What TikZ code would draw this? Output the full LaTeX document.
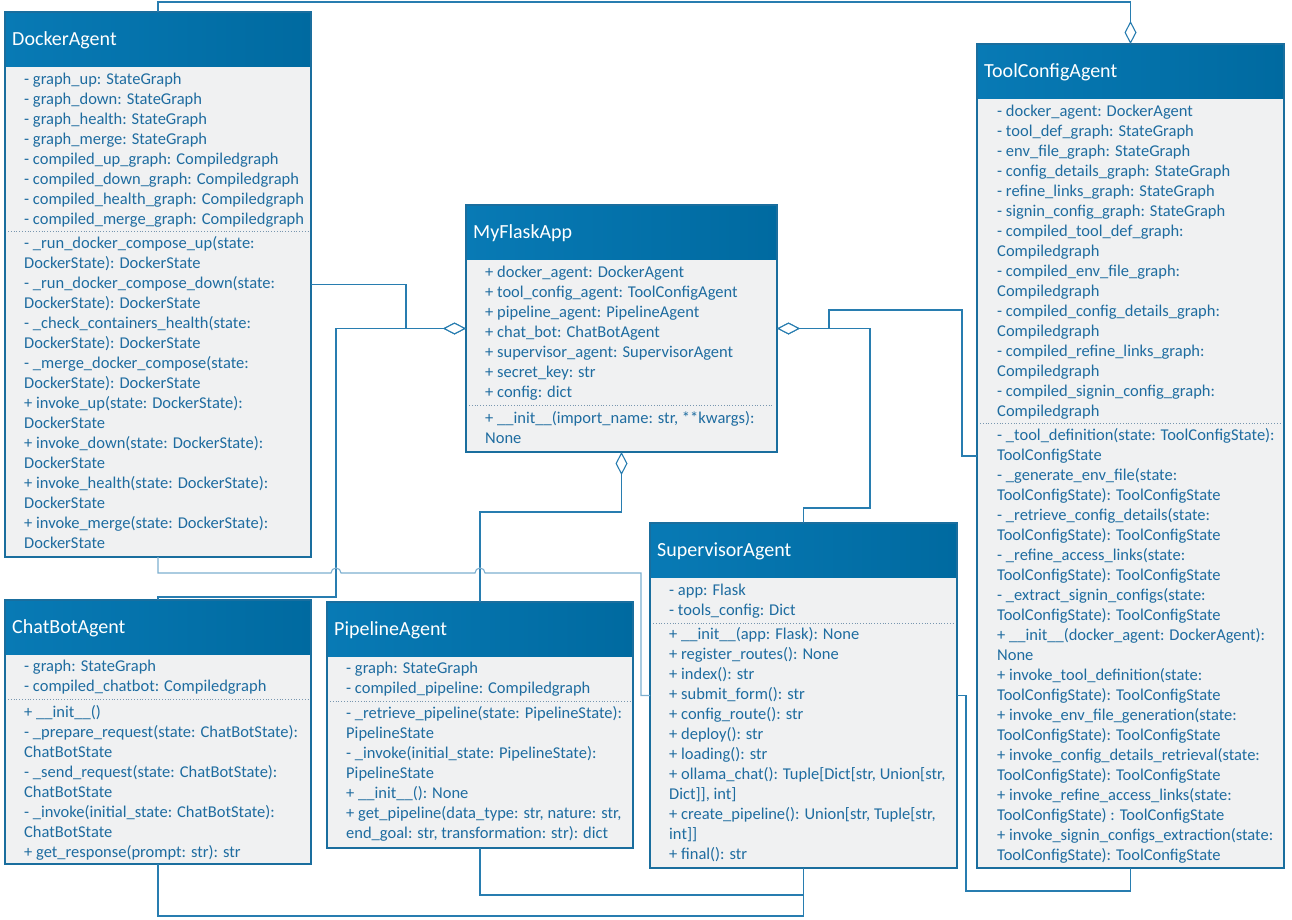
\documentclass[tikz,border=0pt]{standalone}
\usepackage{fontspec}
\setmainfont{Carlito}
\usetikzlibrary{arrows.meta}

\definecolor{hdrL}{RGB}{8,122,181}
\definecolor{hdrR}{RGB}{0,106,160}
\definecolor{bodyfill}{RGB}{240,241,242}
\definecolor{edge}{RGB}{26,110,158}
\definecolor{txt}{RGB}{30,108,160}
\definecolor{link}{RGB}{40,125,176}
\definecolor{linklight}{RGB}{125,175,208}
\definecolor{sepc}{RGB}{120,150,175}

\tikzset{
  classbg/.style={fill=bodyfill, draw=none, inner sep=0pt, outer sep=0pt, anchor=north west},
  classhead/.style={left color=hdrL, right color=hdrR, draw=none, inner sep=0pt, outer sep=0pt, anchor=north west},
  classframe/.style={draw=edge, line width=1.5pt, fill=none, inner sep=0pt, outer sep=0pt, anchor=north west},
  classtitle/.style={anchor=base west, inner sep=0pt, text=white, font=\fontsize{20}{24}\selectfont},
  member/.style={anchor=base west, inner sep=0pt, text=txt, font=\fontsize{16.5}{20}\selectfont},
  divider/.style={draw=sepc, line width=0.8pt, dotted},
  assoc/.style={draw=link, line width=1.1pt},
  agg/.style={assoc, -{Diamond[fill=white, length=23pt, width=12pt]}},
}

% class box: name, left, top, width, height, title
\newcommand\umlclass[6]{%
  \node[classbg, minimum width=#4pt, minimum height=#5pt] (#1-bg) at (#2,#3) {};
  \node[classhead, minimum width=#4pt, minimum height=54pt] (#1-head) at (#2,#3) {};
  \node[classframe, minimum width=#4pt, minimum height=#5pt] (#1) at (#2,#3) {};
  \node[classtitle] (#1-title) at ({#2+7},{#3+33}) {#6};
}
% member lines: name prefix, x, centre of first line, list
\newcommand\umlmembers[4]{%
  \foreach \m [count=\i from 0] in {#4} {
    \node[member] (#1-\i) at (#2,{#3+20*\i+5.5}) {\m};
  }
}

\begin{document}
\begin{tikzpicture}[x=1pt,y=-1pt]
\useasboundingbox (0,0) rectangle (1292,919);

% ---------------- DockerAgent
\umlclass{docker}{5}{12}{306}{545}{DockerAgent}
\umlmembers{docker-a}{24}{79}{
  {- graph\_up: StateGraph},
  {- graph\_down: StateGraph},
  {- graph\_health: StateGraph},
  {- graph\_merge: StateGraph},
  {- compiled\_up\_graph: Compiledgraph},
  {- compiled\_down\_graph: Compiledgraph},
  {- compiled\_health\_graph: Compiledgraph},
  {- compiled\_merge\_graph: Compiledgraph}}
\draw[divider] (8,231) -- (308,231);
\umlmembers{docker-m}{24}{243}{
  {- \_run\_docker\_compose\_up(state:},
  {DockerState): DockerState},
  {- \_run\_docker\_compose\_down(state:},
  {DockerState): DockerState},
  {- \_check\_containers\_health(state:},
  {DockerState): DockerState},
  {- \_merge\_docker\_compose(state:},
  {DockerState): DockerState},
  {+ invoke\_up(state: DockerState):},
  {DockerState},
  {+ invoke\_down(state: DockerState):},
  {DockerState},
  {+ invoke\_health(state: DockerState):},
  {DockerState},
  {+ invoke\_merge(state: DockerState):},
  {DockerState}}

% ---------------- MyFlaskApp
\umlclass{flask}{466}{205}{311}{247}{MyFlaskApp}
\umlmembers{flask-a}{485}{272}{
  {+ docker\_agent: DockerAgent},
  {+ tool\_config\_agent: ToolConfigAgent},
  {+ pipeline\_agent: PipelineAgent},
  {+ chat\_bot: ChatBotAgent},
  {+ supervisor\_agent: SupervisorAgent},
  {+ secret\_key: str},
  {+ config: dict}}
\draw[divider] (469,405) -- (774,405);
\umlmembers{flask-m}{485}{418}{
  {+ \_\_init\_\_(import\_name: str, **kwargs):},
  {None}}

% ---------------- ToolConfigAgent
\umlclass{tool}{977}{44}{307}{824}{ToolConfigAgent}
\umlmembers{tool-a}{997}{111}{
  {- docker\_agent: DockerAgent},
  {- tool\_def\_graph: StateGraph},
  {- env\_file\_graph: StateGraph},
  {- config\_details\_graph: StateGraph},
  {- refine\_links\_graph: StateGraph},
  {- signin\_config\_graph: StateGraph},
  {- compiled\_tool\_def\_graph:},
  {Compiledgraph},
  {- compiled\_env\_file\_graph:},
  {Compiledgraph},
  {- compiled\_config\_details\_graph:},
  {Compiledgraph},
  {- compiled\_refine\_links\_graph:},
  {Compiledgraph},
  {- compiled\_signin\_config\_graph:},
  {Compiledgraph}}
\draw[divider] (980,423) -- (1281,423);
\umlmembers{tool-m}{997}{435}{
  {- \_tool\_definition(state: ToolConfigState):},
  {ToolConfigState},
  {- \_generate\_env\_file(state:},
  {ToolConfigState): ToolConfigState},
  {- \_retrieve\_config\_details(state:},
  {ToolConfigState): ToolConfigState},
  {- \_refine\_access\_links(state:},
  {ToolConfigState): ToolConfigState},
  {- \_extract\_signin\_configs(state:},
  {ToolConfigState): ToolConfigState},
  {+ \_\_init\_\_(docker\_agent: DockerAgent):},
  {None},
  {+ invoke\_tool\_definition(state:},
  {ToolConfigState): ToolConfigState},
  {+ invoke\_env\_file\_generation(state:},
  {ToolConfigState): ToolConfigState},
  {+ invoke\_config\_details\_retrieval(state:},
  {ToolConfigState): ToolConfigState},
  {+ invoke\_refine\_access\_links(state:},
  {ToolConfigState) : ToolConfigState},
  {+ invoke\_signin\_configs\_extraction(state:},
  {ToolConfigState): ToolConfigState}}

% ---------------- ChatBotAgent
\umlclass{chat}{5}{600}{306}{264}{ChatBotAgent}
\umlmembers{chat-a}{24}{666}{
  {- graph: StateGraph},
  {- compiled\_chatbot: Compiledgraph}}
\draw[divider] (8,699) -- (308,699);
\umlmembers{chat-m}{24}{712}{
  {+ \_\_init\_\_()},
  {- \_prepare\_request(state: ChatBotState):},
  {ChatBotState},
  {- \_send\_request(state: ChatBotState):},
  {ChatBotState},
  {- \_invoke(initial\_state: ChatBotState):},
  {ChatBotState},
  {+ get\_response(prompt: str): str}}

% ---------------- PipelineAgent
\umlclass{pipe}{327}{602}{306}{246}{PipelineAgent}
\umlmembers{pipe-a}{346}{668}{
  {- graph: StateGraph},
  {- compiled\_pipeline: Compiledgraph}}
\draw[divider] (330,701) -- (630,701);
\umlmembers{pipe-m}{346}{713}{
  {- \_retrieve\_pipeline(state: PipelineState):},
  {PipelineState},
  {- \_invoke(initial\_state: PipelineState):},
  {PipelineState},
  {+ \_\_init\_\_(): None},
  {+ get\_pipeline(data\_type: str, nature: str,},
  {end\_goal: str, transformation: str): dict}}

% ---------------- SupervisorAgent
\umlclass{super}{650}{523}{307}{345}{SupervisorAgent}
\umlmembers{super-a}{669}{590}{
  {- app: Flask},
  {- tools\_config: Dict}}
\draw[divider] (653,623) -- (954,623);
\umlmembers{super-m}{669}{634}{
  {+ \_\_init\_\_(app: Flask): None},
  {+ register\_routes(): None},
  {+ index(): str},
  {+ submit\_form(): str},
  {+ config\_route(): str},
  {+ deploy(): str},
  {+ loading(): str},
  {+ ollama\_chat(): Tuple[Dict[str, Union[str,},
  {Dict]], int]},
  {+ create\_pipeline(): Union[str, Tuple[str,},
  {int]]},
  {+ final(): str}}

% ---------------- connectors
% ToolConfigAgent aggregates DockerAgent
\draw[agg] (docker.north) |- (1130.5,2) -- (tool.north);
% MyFlaskApp aggregates DockerAgent and ChatBotAgent (left side)
\draw[agg] (docker.east) -| (406,328.5) -- (flask.west);
\draw[agg] (chat.north) -- (158,597) -| (336,328.5) -- (flask.west);
% MyFlaskApp aggregates PipelineAgent (bottom)
\draw[agg] (pipe.north) |- (621.5,512) -- (flask.south);
% MyFlaskApp aggregates SupervisorAgent and ToolConfigAgent (right side)
\draw[agg] (super.north) |- (870,508) |- (flask.east);
\draw[agg] (tool.west) -| (962,310) -| (829,328.5) -- (flask.east);
% DockerAgent -- SupervisorAgent, hopping over two vertical links
\draw[assoc, draw=linklight] (docker.south) |- (331,573)
  arc[start angle=180, end angle=0, radius=5pt] -- (475,573)
  arc[start angle=180, end angle=0, radius=5pt] -- (641,573) |- (super.west);
% SupervisorAgent -- ToolConfigAgent
\draw[assoc] (super.east) -- (966,695.5) |- (1130.5,891) -- (tool.south);
% ChatBotAgent and PipelineAgent -- SupervisorAgent (bottom)
\coordinate (bjoin) at (803.5,895);
\draw[assoc] (chat.south) |- (803.5,916) -- (super.south);
\draw[assoc] (pipe.south) |- (bjoin);
\end{tikzpicture}
\end{document}
